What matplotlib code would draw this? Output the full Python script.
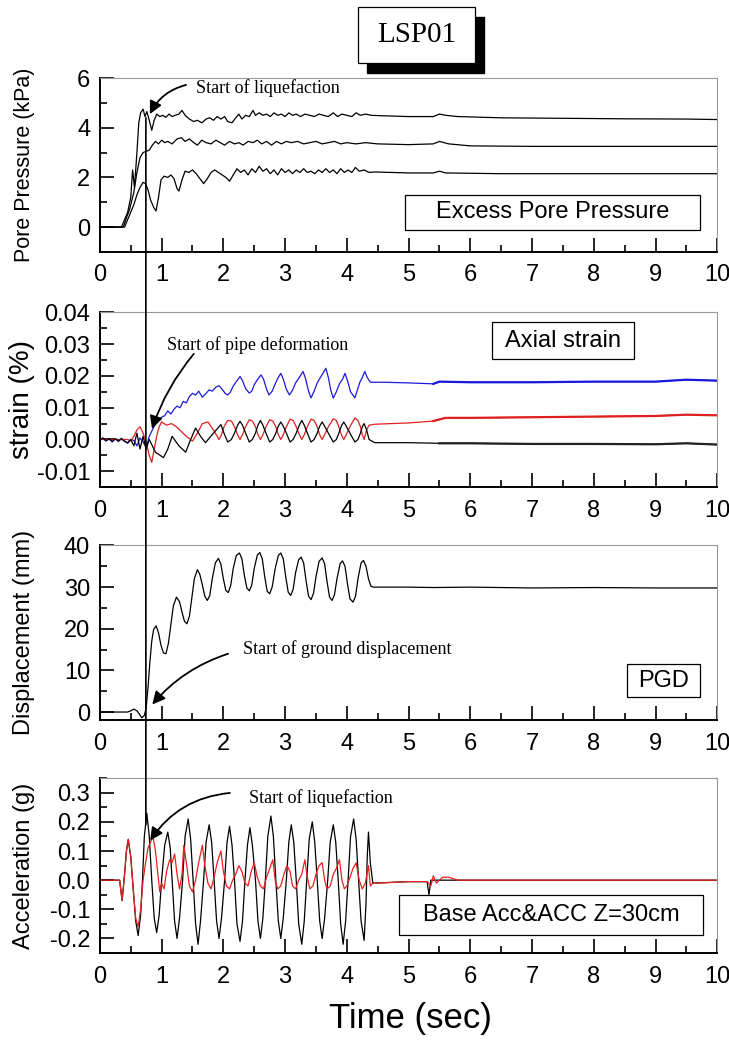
import numpy as np
import matplotlib
matplotlib.use('Agg')
import matplotlib.pyplot as plt
from matplotlib.patches import Rectangle, ConnectionPatch
from matplotlib.ticker import MultipleLocator

plt.rcParams['font.family'] = ['Liberation Sans', 'DejaVu Sans']
plt.rcParams['axes.unicode_minus'] = False

# ---- excess pore pressure (kPa), three piezometers
pp_top_t = [0.0, 0.35, 0.40, 0.45, 0.50, 0.53, 0.56, 0.60, 0.63, 0.66, 0.70, 0.73, 0.76, 0.80, 0.84, 0.88,
            0.92, 0.97, 1.02, 1.07, 1.12, 1.17, 1.22, 1.28, 1.33, 1.38, 1.45, 1.52, 1.58, 1.65, 1.72, 1.78,
            1.84, 1.90, 1.96, 2.02, 2.07, 2.14, 2.20, 2.25, 2.30, 2.36, 2.42, 2.48, 2.52, 2.58, 2.64, 2.70,
            2.76, 2.82, 2.88, 2.94, 3.00, 3.06, 3.12, 3.18, 3.25, 3.32, 3.40, 3.47, 3.55, 3.62, 3.70, 3.78,
            3.85, 3.92, 4.00, 4.08, 4.15, 4.22, 4.30, 4.40, 4.60, 5.00, 5.40, 5.50, 5.60, 5.80, 6.50, 7.50,
            8.50, 9.50, 10.0]
pp_top_v = [0.0, 0.0, 0.3, 0.6, 1.2, 2.3, 1.6, 3.0, 4.2, 4.6, 4.75, 4.45, 4.65, 4.3, 3.9, 4.3,
            4.55, 4.45, 4.5, 4.42, 4.55, 4.45, 4.5, 4.55, 4.7, 4.5, 4.35, 4.25, 4.3, 4.2, 4.35, 4.4,
            4.3, 4.45, 4.35, 4.45, 4.25, 4.2, 4.4, 4.55, 4.35, 4.5, 4.45, 4.7, 4.5, 4.6, 4.5, 4.55,
            4.45, 4.6, 4.5, 4.55, 4.45, 4.6, 4.5, 4.55, 4.45, 4.55, 4.5, 4.45, 4.55, 4.5, 4.45, 4.6,
            4.45, 4.55, 4.5, 4.45, 4.6, 4.5, 4.55, 4.5, 4.48, 4.45, 4.45, 4.55, 4.5, 4.45, 4.4, 4.38,
            4.36, 4.35, 4.33]

pp_mid_t = [0.0, 0.38, 0.42, 0.48, 0.55, 0.60, 0.65, 0.70, 0.75, 0.80, 0.85, 0.90, 0.95, 1.00, 1.05, 1.10,
            1.17, 1.25, 1.32, 1.38, 1.45, 1.52, 1.58, 1.65, 1.72, 1.80, 1.88, 1.95, 2.02, 2.10, 2.18, 2.25,
            2.32, 2.40, 2.48, 2.55, 2.62, 2.70, 2.78, 2.86, 2.94, 3.02, 3.10, 3.20, 3.30, 3.40, 3.50, 3.60,
            3.70, 3.80, 3.90, 4.00, 4.15, 4.30, 4.50, 5.00, 5.40, 5.50, 5.65, 6.00, 7.00, 8.50, 10.0]
pp_mid_v = [0.0, 0.0, 0.3, 0.7, 1.4, 2.2, 2.8, 3.0, 3.05, 3.1, 3.3, 3.45, 3.35, 3.5, 3.4, 3.45,
            3.35, 3.55, 3.6, 3.45, 3.55, 3.4, 3.3, 3.5, 3.4, 3.35, 3.5, 3.4, 3.3, 3.45, 3.35, 3.4,
            3.3, 3.45, 3.4, 3.5, 3.35, 3.45, 3.3, 3.45, 3.35, 3.45, 3.4, 3.45, 3.35, 3.4, 3.45, 3.35,
            3.4, 3.45, 3.35, 3.4, 3.35, 3.4, 3.35, 3.32, 3.35, 3.45, 3.35, 3.27, 3.25, 3.25, 3.25]

pp_bot_t = [0.0, 0.40, 0.45, 0.50, 0.55, 0.60, 0.65, 0.70, 0.74, 0.78, 0.82, 0.87, 0.91, 0.95, 0.99, 1.04,
            1.10, 1.15, 1.20, 1.25, 1.28, 1.33, 1.38, 1.44, 1.50, 1.56, 1.62, 1.68, 1.74, 1.80, 1.86, 1.92,
            1.98, 2.04, 2.10, 2.16, 2.22, 2.28, 2.34, 2.40, 2.46, 2.52, 2.58, 2.64, 2.70, 2.76, 2.82, 2.88,
            2.94, 3.00, 3.06, 3.12, 3.18, 3.24, 3.30, 3.36, 3.42, 3.48, 3.54, 3.60, 3.66, 3.72, 3.78, 3.84,
            3.90, 3.96, 4.02, 4.08, 4.14, 4.20, 4.28, 4.36, 4.45, 5.00, 5.40, 5.50, 5.60, 6.50, 8.00, 10.0]
pp_bot_v = [0.0, 0.0, 0.3, 0.6, 0.9, 1.3, 1.6, 1.8, 1.75, 1.5, 1.1, 0.8, 0.65, 1.2, 1.9, 2.05,
            2.0, 2.1, 1.95, 1.55, 1.45, 1.9, 2.25, 2.2, 2.3, 2.15, 1.95, 1.75, 1.95, 2.2, 2.3, 2.2,
            2.1, 2.0, 1.85, 2.1, 2.35, 2.2, 2.3, 2.1, 2.35, 2.2, 2.45, 2.25, 2.35, 2.15, 2.3, 2.1,
            2.35, 2.2, 2.3, 2.15, 2.3, 2.2, 2.35, 2.2, 2.25, 2.15, 2.3, 2.2, 2.35, 2.2, 2.3, 2.15,
            2.35, 2.2, 2.3, 2.2, 2.4, 2.25, 2.3, 2.2, 2.22, 2.18, 2.18, 2.25, 2.18, 2.15, 2.15, 2.15]

# ---- axial strain (%)
st_blue_t = [0.0, 0.05, 0.10, 0.15, 0.20, 0.25, 0.30, 0.35, 0.40, 0.45, 0.50, 0.55, 0.60, 0.65, 0.70, 0.75,
             0.80, 0.85, 0.90, 0.95, 1.00, 1.05, 1.10, 1.15, 1.20, 1.25, 1.30, 1.35, 1.40, 1.45, 1.50, 1.55,
             1.60, 1.66, 1.72, 1.77, 1.82, 1.88, 1.93, 1.98, 2.03, 2.07, 2.11, 2.16, 2.21, 2.27, 2.31, 2.36,
             2.42, 2.46, 2.50, 2.55, 2.61, 2.65, 2.70, 2.74, 2.79, 2.84, 2.88, 2.93, 2.97, 3.02, 3.07, 3.12,
             3.17, 3.23, 3.29, 3.33, 3.38, 3.42, 3.47, 3.52, 3.58, 3.66, 3.70, 3.74, 3.78, 3.83, 3.88, 3.93,
             3.97, 4.01, 4.06, 4.13, 4.17, 4.21, 4.25, 4.29, 4.33, 4.38, 4.60, 5.00, 5.40, 5.50, 6.00, 7.00,
             8.00, 9.00, 9.50, 10.0]
st_blue_v = [0.0, 0.0005, -0.0005, 0.0003, -0.0008, 0.0002, -0.0006, 0.0004, -0.0005, -0.0012, 0.0, -0.0003, -0.002, 0.0005, -0.0008, -0.0025,
             0.001, 0.003, 0.005, 0.006, 0.007, 0.0075, 0.009, 0.008, 0.0095, 0.0105, 0.010, 0.012, 0.0115, 0.0135, 0.0145, 0.014,
             0.0152, 0.0133, 0.0145, 0.0156, 0.0152, 0.0165, 0.0169, 0.0158, 0.0145, 0.014, 0.0148, 0.0168, 0.0182, 0.0198, 0.0185, 0.016,
             0.0146, 0.0152, 0.0172, 0.0188, 0.0203, 0.019, 0.0158, 0.014, 0.0152, 0.0175, 0.0192, 0.0208, 0.019, 0.0158, 0.014, 0.0155,
             0.0178, 0.0195, 0.0214, 0.0192, 0.0152, 0.0131, 0.0152, 0.0178, 0.0198, 0.0224, 0.0195, 0.0155, 0.013, 0.015, 0.0175, 0.019,
             0.0208, 0.0185, 0.015, 0.0131, 0.0155, 0.018, 0.0195, 0.0214, 0.0195, 0.018, 0.018, 0.0178, 0.0175, 0.0182, 0.018, 0.018,
             0.0182, 0.0182, 0.0188, 0.0185]

st_red_t = [0.0, 0.45, 0.50, 0.55, 0.60, 0.65, 0.70, 0.75, 0.80, 0.84, 0.88, 0.92, 0.96, 1.00, 1.08, 1.16,
            1.24, 1.32, 1.40, 1.50, 1.58, 1.66, 1.75, 1.84, 1.93, 1.97, 2.01, 2.07, 2.13, 2.18, 2.23, 2.27,
            2.31, 2.36, 2.42, 2.47, 2.52, 2.56, 2.60, 2.64, 2.69, 2.75, 2.80, 2.85, 2.89, 2.93, 2.97, 3.02,
            3.08, 3.13, 3.18, 3.23, 3.27, 3.31, 3.36, 3.42, 3.47, 3.52, 3.56, 3.60, 3.64, 3.70, 3.78, 3.83,
            3.87, 3.91, 3.95, 3.99, 4.05, 4.13, 4.18, 4.22, 4.25, 4.28, 4.32, 4.36, 4.45, 5.00, 5.40, 5.60,
            6.00, 7.00, 8.00, 9.00, 9.50, 10.0]
st_red_v = [0.0, 0.0, -0.0005, 0.001, 0.003, 0.004, 0.002, -0.001, -0.005, -0.0072, -0.003, 0.001, 0.004, 0.0055, 0.0045, 0.005,
            0.004, 0.0025, 0.001, -0.0005, 0.002, 0.005, 0.0055, 0.003, 0.0, 0.0015, 0.004, 0.006, 0.0058, 0.004, 0.0015, 0.0,
            0.0015, 0.004, 0.0062, 0.0058, 0.004, 0.0015, 0.0, 0.0015, 0.004, 0.0062, 0.0058, 0.004, 0.0015, 0.0, 0.0015, 0.004,
            0.0064, 0.006, 0.004, 0.0015, 0.0, 0.0015, 0.004, 0.0064, 0.006, 0.004, 0.0015, 0.0, 0.0015, 0.004, 0.0065, 0.006,
            0.004, 0.0015, 0.0, 0.0015, 0.004, 0.0068, 0.006, 0.004, 0.0015, 0.0, 0.003, 0.0045, 0.0048, 0.0052, 0.0058, 0.0068,
            0.0068, 0.0070, 0.0072, 0.0074, 0.0078, 0.0076]

st_blk_t = [0.0, 0.05, 0.10, 0.15, 0.20, 0.25, 0.30, 0.35, 0.40, 0.45, 0.50, 0.55, 0.60, 0.65, 0.70, 0.75,
            0.80, 0.90, 1.03, 1.10, 1.17, 1.28, 1.39, 1.47, 1.55, 1.63, 1.71, 1.84, 1.96, 2.01, 2.07, 2.13,
            2.18, 2.23, 2.27, 2.31, 2.36, 2.42, 2.47, 2.52, 2.56, 2.60, 2.64, 2.69, 2.75, 2.80, 2.85, 2.89,
            2.93, 2.97, 3.02, 3.08, 3.13, 3.18, 3.23, 3.27, 3.31, 3.36, 3.42, 3.47, 3.52, 3.56, 3.60, 3.64,
            3.70, 3.78, 3.83, 3.87, 3.91, 3.95, 3.99, 4.05, 4.13, 4.18, 4.22, 4.25, 4.28, 4.32, 4.36, 4.45,
            5.00, 5.50, 6.00, 7.00, 8.00, 9.00, 9.50, 10.0]
st_blk_v = [0.0, 0.0004, -0.0004, 0.0002, -0.0006, 0.0003, -0.0005, 0.0002, -0.0006, -0.001, 0.0, -0.002, 0.002, -0.003, 0.001, -0.003,
            0.0, -0.004, -0.0057, -0.003, 0.001, -0.002, -0.004, 0.0, 0.0036, 0.001, -0.001, 0.002, 0.0047, 0.002, -0.0008, 0.0,
            0.002, 0.0045, 0.0057, 0.0045, 0.002, -0.0008, 0.0, 0.002, 0.0045, 0.006, 0.0045, 0.002, -0.0008, 0.0, 0.002, 0.0042,
            0.0055, 0.0042, 0.002, -0.0008, 0.0, 0.002, 0.0045, 0.006, 0.0045, 0.002, -0.0008, 0.0, 0.002, 0.0042, 0.0055, 0.0042,
            0.002, -0.0008, 0.0, 0.002, 0.0042, 0.0055, 0.0042, 0.002, -0.0008, 0.0, 0.002, 0.004, 0.005, 0.003, 0.0, -0.001,
            -0.001, -0.0012, -0.0012, -0.0014, -0.0014, -0.0015, -0.0012, -0.0016]

# ---- permanent ground displacement (mm)
pgd_t = [0.00, 0.45, 0.50, 0.55, 0.60, 0.64, 0.68, 0.72, 0.75, 0.78, 0.81, 0.84, 0.87, 0.91, 0.95, 0.99,
         1.03, 1.07, 1.11, 1.15, 1.19, 1.24, 1.29, 1.33, 1.37, 1.41, 1.45, 1.49, 1.53, 1.58, 1.62, 1.66,
         1.70, 1.74, 1.78, 1.82, 1.87, 1.92, 1.96, 2.00, 2.04, 2.08, 2.12, 2.16, 2.21, 2.26, 2.30, 2.34,
         2.38, 2.42, 2.46, 2.50, 2.55, 2.59, 2.63, 2.67, 2.71, 2.75, 2.79, 2.84, 2.89, 2.93, 2.97, 3.01,
         3.05, 3.09, 3.13, 3.17, 3.22, 3.26, 3.30, 3.34, 3.38, 3.42, 3.46, 3.50, 3.55, 3.60, 3.64, 3.68,
         3.72, 3.76, 3.80, 3.84, 3.89, 3.93, 3.97, 4.01, 4.05, 4.10, 4.14, 4.18, 4.23, 4.27, 4.31, 4.35,
         4.39, 4.43, 5.00, 5.40, 6.00, 7.00, 8.00, 9.00, 10.0]
pgd_v = [0.0, 0.0, 0.3, 0.7, 0.3, -0.5, -1.4, -0.8, 1.0, 6.0, 12.0, 17.0, 19.8, 20.7, 19.0, 16.0,
         14.2, 14.0, 16.5, 21.0, 25.5, 27.6, 26.5, 24.0, 21.8, 21.2, 23.0, 27.5, 32.0, 34.2, 33.0, 30.5,
         27.8, 26.8, 28.0, 32.0, 35.8, 36.9, 35.5, 32.0, 29.2, 28.7, 30.5, 34.5, 37.6, 38.2, 36.8, 32.8,
         29.8, 29.1, 30.5, 34.5, 37.7, 38.3, 36.8, 32.5, 29.0, 28.4, 30.0, 34.5, 37.6, 38.2, 36.8, 32.5,
         28.8, 28.0, 29.5, 33.5, 36.6, 37.2, 35.8, 31.5, 27.8, 27.0, 28.5, 32.5, 36.2, 37.0, 35.6, 31.2,
         27.6, 26.8, 28.2, 32.0, 35.6, 36.3, 35.0, 30.8, 27.2, 26.4, 27.8, 32.0, 35.8, 36.4, 35.0, 32.0,
         30.2, 30.0, 30.0, 29.9, 30.0, 29.8, 29.9, 29.8, 29.8]

# ---- acceleration (g): base (black) and z = 30 cm (red)
acc_base_t = [0.00, 0.32, 0.36, 0.40, 0.43, 0.46, 0.50, 0.54, 0.58, 0.62, 0.66, 0.69, 0.72, 0.76, 0.80, 0.84,
              0.88, 0.92, 0.96, 1.00, 1.05, 1.10, 1.14, 1.17, 1.21, 1.25, 1.29, 1.34, 1.38, 1.43, 1.47, 1.51,
              1.55, 1.59, 1.63, 1.68, 1.72, 1.77, 1.81, 1.85, 1.89, 1.93, 1.97, 2.02, 2.06, 2.10, 2.14, 2.18,
              2.22, 2.27, 2.31, 2.35, 2.39, 2.43, 2.47, 2.52, 2.56, 2.60, 2.64, 2.68, 2.72, 2.77, 2.81, 2.85,
              2.89, 2.93, 2.97, 3.02, 3.06, 3.10, 3.14, 3.18, 3.22, 3.27, 3.31, 3.35, 3.39, 3.44, 3.48, 3.52,
              3.56, 3.60, 3.64, 3.69, 3.73, 3.78, 3.82, 3.86, 3.90, 3.94, 3.98, 4.02, 4.06, 4.11, 4.15, 4.19,
              4.23, 4.28, 4.31, 4.33, 4.35, 4.38, 4.42, 4.46, 5.00, 5.30, 5.33, 5.36, 5.50, 6.00, 10.0]
acc_base_v = [0.0, 0.0, -0.07, 0.02, 0.10, 0.14, 0.08, -0.03, -0.14, -0.19, -0.12, 0.0, 0.15, 0.23, 0.15, 0.0,
              -0.13, -0.18, -0.12, 0.0, 0.12, 0.165, 0.11, 0.0, -0.14, -0.20, -0.13, 0.0, 0.15, 0.21, 0.14, 0.0,
              -0.15, -0.22, -0.14, 0.0, 0.13, 0.19, 0.13, 0.0, -0.14, -0.20, -0.13, 0.0, 0.13, 0.185, 0.12, 0.0,
              -0.15, -0.21, -0.14, 0.0, 0.12, 0.18, 0.12, 0.0, -0.14, -0.20, -0.13, 0.0, 0.15, 0.22, 0.15, 0.0,
              -0.14, -0.20, -0.13, 0.0, 0.13, 0.19, 0.13, 0.0, -0.15, -0.22, -0.14, 0.0, 0.14, 0.20, 0.13, 0.0,
              -0.14, -0.20, -0.13, 0.0, 0.13, 0.19, 0.13, 0.0, -0.15, -0.22, -0.14, 0.0, 0.15, 0.21, 0.14, 0.0,
              -0.14, -0.207, -0.08, 0.08, 0.165, 0.06, -0.01, -0.01, -0.005, -0.005, -0.05, 0.0, 0.0, 0.0, 0.0]

acc_z30_t = [0.00, 0.32, 0.36, 0.40, 0.43, 0.46, 0.50, 0.54, 0.58, 0.62, 0.66, 0.70, 0.74, 0.78, 0.82, 0.86,
             0.90, 0.94, 0.97, 1.00, 1.04, 1.08, 1.13, 1.17, 1.21, 1.25, 1.29, 1.33, 1.36, 1.40, 1.45, 1.50,
             1.55, 1.60, 1.66, 1.70, 1.75, 1.80, 1.85, 1.90, 1.96, 2.00, 2.05, 2.10, 2.15, 2.20, 2.25, 2.30,
             2.35, 2.40, 2.45, 2.50, 2.55, 2.60, 2.65, 2.70, 2.75, 2.80, 2.84, 2.88, 2.93, 2.98, 3.03, 3.08,
             3.12, 3.17, 3.22, 3.27, 3.32, 3.36, 3.40, 3.45, 3.50, 3.55, 3.60, 3.64, 3.68, 3.73, 3.78, 3.83,
             3.88, 3.92, 3.96, 4.00, 4.05, 4.10, 4.15, 4.20, 4.25, 4.30, 4.35, 4.38, 4.42, 4.50, 5.00, 5.30,
             5.36, 5.40, 5.45, 5.55, 5.65, 5.80, 10.0]
acc_z30_v = [0.0, 0.0, -0.07, 0.02, 0.10, 0.14, 0.08, -0.03, -0.13, -0.16, -0.10, 0.0, 0.06, 0.11, 0.13, 0.15,
             0.10, 0.02, -0.04, -0.01, -0.03, 0.03, 0.07, 0.06, 0.09, 0.02, -0.03, 0.02, 0.12, 0.06, -0.02, -0.04,
             0.0, 0.06, 0.12, 0.05, -0.01, -0.03, 0.01, 0.06, 0.10, 0.03, -0.02, -0.03, 0.0, 0.02, 0.05, 0.03,
             -0.01, -0.02, 0.03, 0.06, 0.01, -0.02, -0.03, 0.01, 0.04, 0.07, 0.0, -0.03, -0.02, 0.02, 0.05, 0.03,
             -0.02, -0.03, 0.0, 0.02, 0.07, 0.01, -0.03, -0.02, 0.02, 0.05, 0.06, 0.0, -0.03, -0.02, 0.02, 0.04,
             0.07, 0.0, -0.03, -0.02, 0.01, 0.04, 0.06, 0.0, -0.03, -0.01, 0.05, -0.02, -0.01, -0.01, -0.005, -0.005,
             -0.02, 0.015, -0.01, 0.01, 0.01, 0.0, 0.0]


def style_axis(ax, ylim, major, minor, fmt):
    ax.set_xlim(0, 10)
    ax.set_ylim(*ylim)
    ax.xaxis.set_major_locator(MultipleLocator(1))
    ax.xaxis.set_minor_locator(MultipleLocator(0.5))
    ax.yaxis.set_major_locator(MultipleLocator(major))
    ax.yaxis.set_minor_locator(MultipleLocator(minor))
    ax.yaxis.set_major_formatter(fmt)
    for s in ['top', 'right']:
        ax.spines[s].set_color('#999999')
        ax.spines[s].set_linewidth(0.8)
    for s in ['left', 'bottom']:
        ax.spines[s].set_linewidth(1.4)
    ax.tick_params(which='both', direction='in', top=False, right=False, width=1.2, labelsize=17)
    ax.tick_params(axis='x', which='major', length=10, pad=9)
    ax.tick_params(axis='y', which='major', length=10, pad=7)
    ax.tick_params(which='minor', length=5)
    ax.yaxis.set_label_coords(-0.105, 0.5)


def label_box(ax, x0, y0, x1, y1, text, size=17):
    ax.add_patch(Rectangle((x0, y0), x1 - x0, y1 - y0, transform=ax.transAxes,
                           facecolor='white', edgecolor='black', lw=0.9, zorder=5))
    ax.text((x0 + x1) / 2, (y0 + y1) / 2, text, transform=ax.transAxes,
            ha='center', va='center', fontsize=size, zorder=6)


def noisy_tail(ax, t, v, color, start=5.4):
    # steady part after shaking shows as a dense noisy band
    t = np.asarray(t)
    v = np.asarray(v)
    m = t >= start
    ax.plot(t[m], v[m], color=color, lw=1.6)


fig = plt.figure(figsize=(7.29, 10.41), dpi=100)
L, W = 0.137, 0.847
ax1 = fig.add_axes([L, 0.758, W, 0.167])
ax2 = fig.add_axes([L, 0.532, W, 0.168])
ax3 = fig.add_axes([L, 0.308, W, 0.168])
ax4 = fig.add_axes([L, 0.0845, W, 0.168])

serif = dict(family='Liberation Serif', fontsize=13)
arrow = dict(arrowstyle='-|>', color='black', lw=1.3, mutation_scale=19)

# panel 1
ax1.plot(pp_top_t, pp_top_v, color='black', lw=0.9)
ax1.plot(pp_mid_t, pp_mid_v, color='black', lw=0.9)
ax1.plot(pp_bot_t, pp_bot_v, color='black', lw=0.9)
style_axis(ax1, (-1, 6), 2, 1, '{x:.0f}')
ax1.set_ylabel('Pore Pressure (kPa)', fontsize=15.5)
label_box(ax1, 0.494, 0.126, 0.972, 0.328, 'Excess Pore Pressure')
ax1.annotate('', xy=(0.79, 4.45), xytext=(1.44, 5.75),
             arrowprops=dict(connectionstyle='arc3,rad=0.25', **arrow))
ax1.text(1.55, 5.6, 'Start of liquefaction', va='center', **serif)

# panel 2
ax2.plot(st_blue_t, st_blue_v, color='#1a1adc', lw=0.9)
ax2.plot(st_red_t, st_red_v, color='#e02020', lw=0.9)
ax2.plot(st_blk_t, st_blk_v, color='black', lw=0.9)
noisy_tail(ax2, st_blue_t, st_blue_v, '#1a1adc')
noisy_tail(ax2, st_red_t, st_red_v, '#e02020')
noisy_tail(ax2, st_blk_t, st_blk_v, '#222222')
style_axis(ax2, (-0.015, 0.04), 0.01, 0.005, '{x:.2f}')
ax2.set_ylabel('strain (%)', fontsize=20)
label_box(ax2, 0.635, 0.731, 0.865, 0.943, 'Axial strain')
ax2.annotate('', xy=(0.83, 0.0025), xytext=(1.55, 0.0276),
             arrowprops=dict(connectionstyle='arc3,rad=0.1', **arrow))
ax2.text(1.09, 0.0297, 'Start of pipe deformation', va='center', **serif)

# panel 3
ax3.plot(pgd_t, pgd_v, color='black', lw=0.9)
style_axis(ax3, (-2, 40), 10, 5, '{x:.0f}')
ax3.set_ylabel('Displacement (mm)', fontsize=17)
label_box(ax3, 0.853, 0.131, 0.972, 0.32, 'PGD')
ax3.annotate('', xy=(0.82, 1.3), xytext=(2.12, 14.2),
             arrowprops=dict(connectionstyle='arc3,rad=0.15', **arrow))
ax3.text(2.31, 15.2, 'Start of ground displacement', va='center', **serif)

# panel 4
ax4.plot(acc_base_t, acc_base_v, color='black', lw=0.9)
ax4.plot(acc_z30_t, acc_z30_v, color='#e82020', lw=0.9)
style_axis(ax4, (-0.25, 0.35), 0.1, 0.05, '{x:.1f}')
ax4.set_ylabel('Acceleration (g)', fontsize=17)
label_box(ax4, 0.485, 0.103, 0.976, 0.331, 'Base Acc&ACC Z=30cm')
ax4.annotate('', xy=(0.79, 0.128), xytext=(2.15, 0.30),
             arrowprops=dict(connectionstyle='arc3,rad=0.25', **arrow))
ax4.text(2.42, 0.282, 'Start of liquefaction', va='center', **serif)

# vertical marker through all panels
con = ConnectionPatch(xyA=(0.745, 4.4), coordsA=ax1.transData,
                      xyB=(0.745, 0.19), coordsB=ax4.transData, color='black', lw=1.2)
fig.add_artist(con)

# title box with shadow
fig.add_artist(Rectangle((0.503, 0.930), 0.161, 0.0538, transform=fig.transFigure,
                         facecolor='black', edgecolor='black'))
fig.add_artist(Rectangle((0.491, 0.9395), 0.161, 0.0538, transform=fig.transFigure,
                         facecolor='white', edgecolor='black', lw=0.9))
fig.text(0.5715, 0.9664, 'LSP01', ha='center', va='center', family='Liberation Serif', fontsize=21)

fig.text(0.563, 0.022, 'Time (sec)', ha='center', va='center', fontsize=25)

fig.savefig('out.png', dpi=100)
